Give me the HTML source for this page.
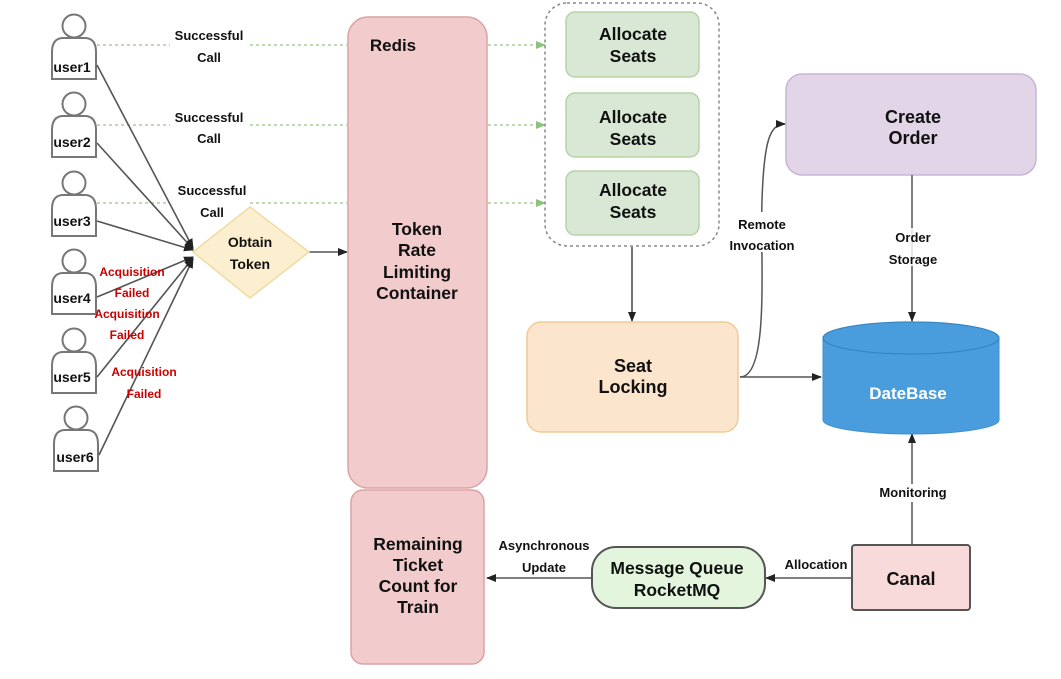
<!DOCTYPE html>
<html><head><meta charset="utf-8"><style>
html,body{margin:0;padding:0;background:#fff;}
svg{display:block;}
text{font-family:"Liberation Sans",Arial,sans-serif;font-weight:bold;fill:#111;text-anchor:middle;}
.s{font-size:13px;}
.r{font-size:12px;fill:#cc0000;}
.b{font-size:18px;}
.m{font-size:17.5px;}
.u{font-size:14px;}
</style></head><body>
<svg width="1061" height="679" viewBox="0 0 1061 679" xmlns="http://www.w3.org/2000/svg">
<defs>
<marker id="a" markerWidth="10" markerHeight="10" refX="9" refY="5" orient="auto" markerUnits="userSpaceOnUse"><path d="M0,1 L10,5 L0,9 Z" fill="#222"/></marker>
<marker id="g" markerWidth="10" markerHeight="10" refX="9" refY="5" orient="auto" markerUnits="userSpaceOnUse"><path d="M0,1 L10,5 L0,9 Z" fill="#8bc37a"/></marker>
<g id="u"><circle cx="0" cy="0" r="11.5" fill="#fff" stroke="#777" stroke-width="2"/>
<path d="M-22,53 L-22,26 Q-22,13 -12,12 L12,12 Q22,13 22,26 L22,53 Z" fill="#fff" stroke="#777" stroke-width="2"/></g>
</defs>

<g stroke="#a8d098" stroke-width="1.5" stroke-dasharray="3,3" fill="none">
<path d="M97,45 L170,45 M250,45 L347,45"/>
<path d="M97,125 L170,125 M250,125 L347,125"/>
<path d="M97,203 L170,203 M250,203 L347,203"/>
<path d="M488,45 L545,45" marker-end="url(#g)"/>
<path d="M488,125 L545,125" marker-end="url(#g)"/>
<path d="M488,203 L545,203" marker-end="url(#g)"/>
</g>

<use href="#u" x="74" y="26"/>
<use href="#u" x="74" y="104"/>
<use href="#u" x="74" y="183"/>
<use href="#u" x="74" y="261"/>
<use href="#u" x="74" y="340"/>
<use href="#u" x="76" y="418"/>
<text x="72" y="72" class="u">user1</text>
<text x="72" y="147" class="u">user2</text>
<text x="72" y="226" class="u">user3</text>
<text x="72" y="303" class="u">user4</text>
<text x="72" y="382" class="u">user5</text>
<text x="75" y="462" class="u">user6</text>

<g stroke="#555" stroke-width="1.6" fill="none">
<path d="M97,65 L193,248" marker-end="url(#a)"/>
<path d="M97,143 L193,249" marker-end="url(#a)"/>
<path d="M97,221 L193,250" marker-end="url(#a)"/>
<path d="M97,297 L193,257" marker-end="url(#a)"/>
<path d="M97,377 L193,258" marker-end="url(#a)"/>
<path d="M99,455 L193,259" marker-end="url(#a)"/>
<path d="M309,252 L347,252" marker-end="url(#a)"/>
</g>

<text x="209" y="40" class="s">Successful</text><text x="209" y="62" class="s">Call</text>
<text x="209" y="122" class="s">Successful</text><text x="209" y="143" class="s">Call</text>
<text x="212" y="195" class="s">Successful</text><text x="212" y="217" class="s">Call</text>
<text x="132" y="276" class="r">Acquisition</text><text x="132" y="297" class="r">Failed</text>
<text x="127" y="318" class="r">Acquisition</text><text x="127" y="339" class="r">Failed</text>
<text x="144" y="376" class="r">Acquisition</text><text x="144" y="398" class="r">Failed</text>

<path d="M193,252 L250,207 L309,252 L250,298 Z" fill="#fcefcf" stroke="#efdca4" stroke-width="1.5"/>
<text x="250" y="247" style="font-size:14px">Obtain</text>
<text x="250" y="269" style="font-size:14px">Token</text>

<rect x="348" y="17" width="139" height="471" rx="20" fill="#f2cccc" stroke="#d9a3a3" stroke-width="1.5"/>
<text x="393" y="51" style="font-size:17px">Redis</text>
<text x="417" y="235" class="m">Token</text>
<text x="417" y="256" class="m">Rate</text>
<text x="417" y="278" class="m">Limiting</text>
<text x="417" y="299" class="m">Container</text>

<rect x="351" y="490" width="133" height="174" rx="12" fill="#f2cccc" stroke="#d9a3a3" stroke-width="1.5"/>
<text x="418" y="550" class="m">Remaining</text>
<text x="418" y="571" class="m">Ticket</text>
<text x="418" y="592" class="m">Count for</text>
<text x="418" y="613" class="m">Train</text>

<rect x="545" y="3" width="174" height="243" rx="22" fill="none" stroke="#888" stroke-width="1.5" stroke-dasharray="3,3"/>
<g fill="#d8e8d5" stroke="#b5d3a7" stroke-width="1.5">
<rect x="566" y="12" width="133" height="65" rx="9"/>
<rect x="566" y="93" width="133" height="64" rx="9"/>
<rect x="566" y="171" width="133" height="64" rx="9"/>
</g>
<text x="633" y="40" class="m">Allocate</text><text x="633" y="62" class="m">Seats</text>
<text x="633" y="123" class="m">Allocate</text><text x="633" y="145" class="m">Seats</text>
<text x="633" y="196" class="m">Allocate</text><text x="633" y="218" class="m">Seats</text>

<path d="M632,247 L632,321" stroke="#444" stroke-width="1.5" marker-end="url(#a)"/>
<rect x="527" y="322" width="211" height="110" rx="14" fill="#fbe5cd" stroke="#f0cc95" stroke-width="1.5"/>
<text x="633" y="372" class="b">Seat</text>
<text x="633" y="393" class="b">Locking</text>

<rect x="786" y="74" width="250" height="101" rx="16" fill="#e1d5e7" stroke="#c9b6d6" stroke-width="1.5"/>
<text x="913" y="123" class="b">Create</text>
<text x="913" y="144" class="b">Order</text>

<g stroke="#555" stroke-width="1.5" fill="none">
<path d="M740,377 C770,377 760,260 762,200 C764,140 770,124 785,124" marker-end="url(#a)"/>
<path d="M740,377 L821,377" marker-end="url(#a)"/>
<path d="M912,175 L912,321" marker-end="url(#a)"/>
<path d="M912,545 L912,434" marker-end="url(#a)"/>
<path d="M852,578 L766,578" marker-end="url(#a)"/>
<path d="M592,578 L487,578" marker-end="url(#a)"/>
</g>
<rect x="730" y="212" width="65" height="40" fill="#fff"/>
<text x="762" y="229" class="s">Remote</text>
<text x="762" y="250" class="s">Invocation</text>
<rect x="888" y="228" width="50" height="38" fill="#fff" opacity="0.8"/>
<text x="913" y="242" class="s">Order</text>
<text x="913" y="264" class="s">Storage</text>

<path d="M823,338 L823,420 A88,14 0 0 0 999,420 L999,338 Z" fill="#4a9ddd" stroke="#3d8fcf" stroke-width="1"/>
<ellipse cx="911" cy="338" rx="88" ry="16" fill="#4a9ddd" stroke="#3585c5" stroke-width="1.2"/>
<text x="908" y="399" style="fill:#fff;font-size:17px">DateBase</text>

<rect x="874" y="484" width="78" height="18" fill="#fff"/>
<text x="913" y="497" class="s">Monitoring</text>

<rect x="852" y="545" width="118" height="65" rx="3" fill="#f9dada" stroke="#555" stroke-width="2"/>
<text x="911" y="585" class="b">Canal</text>
<text x="816" y="569" class="s">Allocation</text>

<rect x="592" y="547" width="173" height="61" rx="24" fill="#e3f5dc" stroke="#555" stroke-width="2"/>
<text x="677" y="574" class="m">Message Queue</text>
<text x="677" y="596" class="m">RocketMQ</text>
<text x="544" y="550" class="s">Asynchronous</text>
<text x="544" y="572" class="s">Update</text>
</svg>
</body></html>
